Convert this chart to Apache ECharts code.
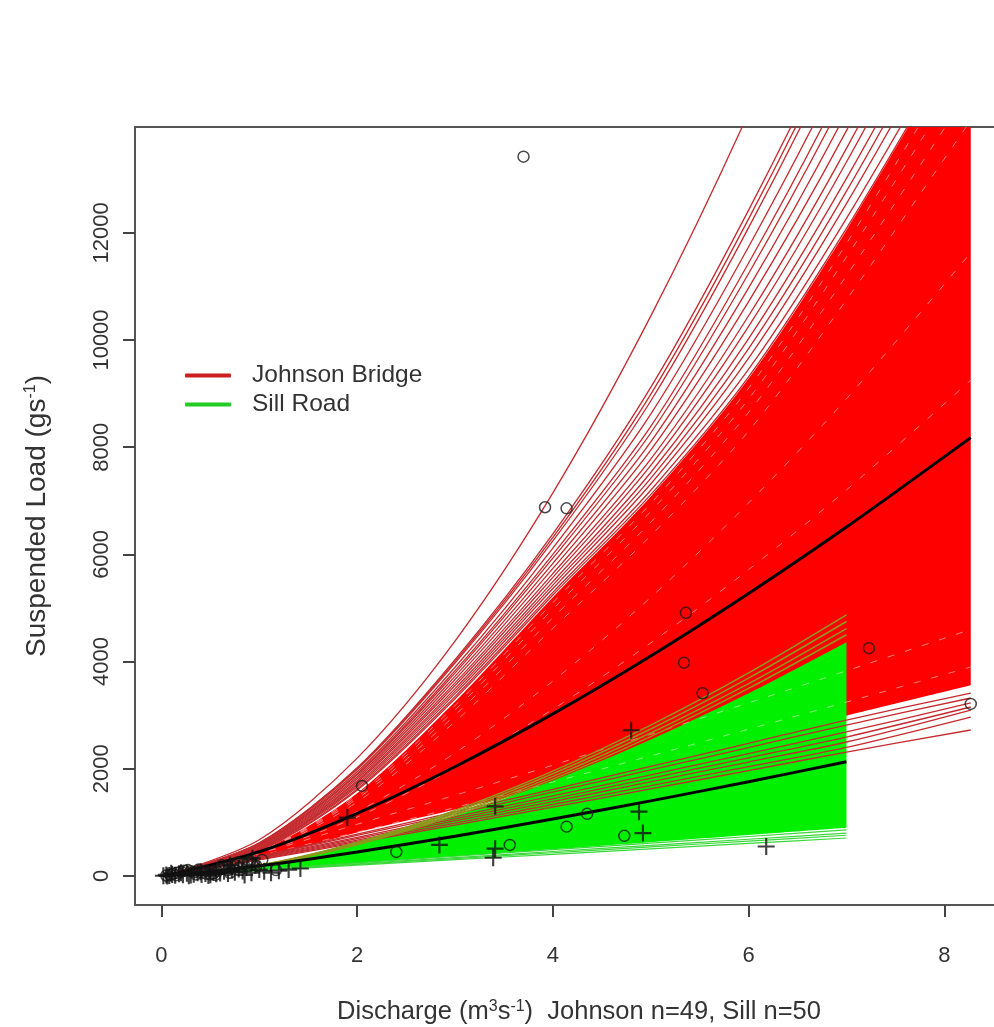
<!DOCTYPE html>
<html>
<head>
<meta charset="utf-8">
<title>Suspended load vs discharge</title>
<script src="https://cdn.jsdelivr.net/npm/echarts@6.0.0/dist/echarts.min.js"></script>
<style>
  html, body { margin: 0; padding: 0; background: #fff; }
  #chart { width: 994px; height: 1027px; }
</style>
</head>
<body>
<div id="chart"></div>
<script>
var xJohnson = [0.03, 1, 2, 3, 4, 5, 6, 7, 8.27];
var xSill = [0.03, 1, 2, 3, 4, 5, 6, 7];

// Johnson Bridge: the sparse upper bootstrap fits
var johnsonUpper = [
  [0, 677, 2200, 4384, 7148, 10445, 14238, 18509, 24574],
  [0, 619, 2021, 4038, 6384, 9115, 12423, 16140, 21420],
  [0, 614, 2004, 4005, 6317, 8987, 12259, 15936, 21166],
  [0, 608, 1986, 3971, 6251, 8862, 12096, 15733, 20907],
  [0, 593, 1944, 3894, 6119, 8618, 11740, 15244, 20221],
  [0, 580, 1909, 3831, 6002, 8388, 11437, 14868, 19743],
  [0, 572, 1884, 3786, 5929, 8265, 11240, 14605, 19388],
  [0, 559, 1849, 3725, 5832, 8101, 10974, 14249, 18902],
  [0, 545, 1814, 3665, 5738, 7946, 10717, 13906, 18432],
  [0, 532, 1779, 3603, 5643, 7778, 10452, 13576, 18017],
  [0, 522, 1751, 3554, 5572, 7660, 10255, 13320, 17678],
  [0, 508, 1716, 3496, 5491, 7528, 10027, 13015, 17259],
  [0, 497, 1688, 3450, 5427, 7418, 9841, 12777, 16944],
  [0, 486, 1659, 3402, 5363, 7314, 9662, 12545, 16639],
  [0, 473, 1625, 3346, 5291, 7197, 9455, 12269, 16262],
  [0, 463, 1600, 3306, 5242, 7116, 9313, 12081, 16010]
];
// edges of the solid red mass of fits
var johnsonBandTop = [0, 455, 1545, 3250, 5200, 7080, 9280, 12050, 15980];
var johnsonBandBottom = [0, 330, 813, 1240, 1672, 2108, 2549, 2992, 3559];
// light gaps between fits inside the red mass
var johnsonGaps = [
  [0, 450, 1520, 3180, 5100, 6950, 9100, 11800, 15600],
  [0, 445, 1480, 3100, 4980, 6800, 8900, 11550, 15200],
  [0, 440, 1440, 3000, 4820, 6600, 8650, 11200, 14700],
  [0, 430, 1380, 2880, 4620, 6350, 8300, 10750, 14100],
  [0, 450, 1200, 2296, 3637, 5198, 6960, 8904, 11629],
  [0, 430, 1100, 2021, 3111, 4348, 5716, 7203, 9250],
  [0, 420, 965, 1507, 2068, 2644, 3231, 3828, 4600],
  [0, 380, 818, 1278, 1753, 2241, 2739, 3245, 3899]
];
// lowest Johnson fits (seen right of the green band)
var johnsonLower = [
  [0, 377, 781, 1195, 1617, 2044, 2475, 2910, 3414],
  [0, 365, 756, 1157, 1565, 1979, 2396, 2817, 3321],
  [0, 348, 721, 1104, 1493, 1887, 2285, 2687, 3228],
  [0, 336, 696, 1065, 1441, 1821, 2205, 2593, 3153],
  [0, 324, 671, 1027, 1389, 1756, 2126, 2500, 3097],
  [0, 311, 644, 986, 1334, 1686, 2041, 2400, 2966],
  [0, 300, 621, 950, 1285, 1625, 1967, 2313, 2724]
];
var johnsonMean = [0, 453, 1170, 2039, 3024, 4105, 5271, 6510, 8179];

// Sill Road fits
var sillEdge = [
  [0, 204, 632, 1224, 1956, 2814, 3788, 4871],
  [0, 199, 616, 1193, 1907, 2743, 3692, 4748],
  [0, 194, 599, 1160, 1854, 2667, 3590, 4617],
  [0, 189, 584, 1131, 1807, 2601, 3500, 4501]
];
var sillBandTop = [0, 194, 588, 1125, 1782, 2547, 3410, 4363];
var sillBandBottom = [0, 117, 242, 370, 500, 632, 765, 900];
var sillLower = [
  [0, 123, 246, 369, 491, 614, 737, 860],
  [0, 114, 229, 343, 457, 571, 686, 800],
  [0, 109, 217, 326, 434, 543, 651, 760],
  [0, 101, 203, 304, 405, 506, 608, 709]
];
var sillMean = [0, 189, 448, 742, 1062, 1402, 1759, 2131];

// observations
var johnsonPts = [
  [3.70, 13420], [3.92, 6880], [4.14, 6860], [2.05, 1680], [5.36, 4910],
  [5.34, 3980], [5.53, 3410], [4.35, 1160], [4.14, 920], [4.73, 750],
  [3.56, 580], [2.40, 450], [7.23, 4250], [8.27, 3210], [1.17, 110],
  [1.03, 300], [0.90, 270], [0.05, 10], [0.09, 25], [0.12, 40],
  [0.16, 60], [0.20, 80], [0.23, 100], [0.27, 110], [0.30, 90],
  [0.34, 70], [0.38, 120], [0.42, 60], [0.46, 40], [0.50, 30],
  [0.53, 50], [0.57, 90], [0.60, 130], [0.64, 150], [0.68, 110],
  [0.72, 180], [0.76, 200], [0.80, 160], [0.84, 230], [0.88, 250],
  [0.93, 210], [0.97, 190], [0.55, 20], [0.15, 15], [0.35, 30],
  [0.45, 100], [0.70, 60], [0.62, 200], [0.78, 250]
];
var sillPts = [
  [4.80, 2720], [1.90, 1090], [3.41, 1300], [4.88, 1200], [4.92, 800],
  [3.41, 510], [3.39, 340], [6.18, 550], [2.84, 580], [1.42, 140],
  [0.02, 5], [0.05, 20], [0.08, 10], [0.11, 30], [0.14, 15],
  [0.18, 40], [0.22, 25], [0.26, 50], [0.30, 20], [0.33, 35],
  [0.37, 60], [0.41, 30], [0.45, 45], [0.50, 25], [0.53, 70],
  [0.56, 40], [0.60, 55], [0.64, 90], [0.68, 45], [0.72, 110],
  [0.75, 70], [0.79, 130], [0.83, 95], [0.87, 160], [0.92, 60],
  [0.96, 200], [1.00, 120], [1.05, 90], [1.12, 60], [0.93, 330],
  [0.70, 200], [0.40, 80], [0.20, 60], [0.10, 50], [0.06, 0],
  [0.28, 5], [0.48, 10], [0.85, 20], [1.20, 100], [1.30, 120]
];

var xTicks = [0, 2, 4, 6, 8];
var yTicks = [0, 2000, 4000, 6000, 8000, 10000, 12000];

var font = "'Liberation Sans', Arial, sans-serif";

function pairs(xs, ys) {
  return ys.map(function (y, i) { return [xs[i], y]; });
}

function curve(name, xs, ys, color, width, extra) {
  var s = {
    name: name,
    type: "line",
    data: pairs(xs, ys),
    smooth: 0.3,
    symbol: "none",
    silent: true,
    lineStyle: { color: color, width: width }
  };
  for (var k in extra) s[k] = extra[k];
  return s;
}

// filled band between two read curves; values come first in each row so the
// stack is taken on the load axis, not on discharge
function band(key, xs, bottom, top, color) {
  var diff = top.map(function (v, i) { return v - bottom[i]; });
  function rows(ys) {
    return ys.map(function (y, i) { return [y, xs[i]]; });
  }
  var common = {
    type: "line", smooth: 0.3, symbol: "none", silent: true,
    stack: key, encode: { x: 1, y: 0 }
  };
  var base = Object.assign({ name: key + " base", data: rows(bottom), lineStyle: { width: 0 } }, common);
  var fill = Object.assign({
    name: key + " fill", data: rows(diff), lineStyle: { width: 0 },
    areaStyle: { color: color, opacity: 1 }
  }, common);
  return [base, fill];
}

var series = [];
johnsonUpper.forEach(function (ys) {
  series.push(curve("Johnson Bridge", xJohnson, ys, "#c42a2e", 1.3));
});
series = series.concat(band("jb", xJohnson, johnsonBandBottom, johnsonBandTop, "#ff0000"));
johnsonGaps.forEach(function (ys) {
  series.push(curve("gap", xJohnson, ys, "#fff", 1, {
    lineStyle: { color: "rgba(255,235,235,0.55)", width: 1, type: [7, 11] }
  }));
});
johnsonLower.forEach(function (ys) {
  series.push(curve("Johnson Bridge", xJohnson, ys, "#c42a2e", 1.3));
});
series.push(curve("Johnson mean", xJohnson, johnsonMean, "#000", 3));

sillEdge.forEach(function (ys) {
  series.push(curve("Sill Road", xSill, ys, "#8a9a1a", 1.5));
});
series = series.concat(band("sr", xSill, sillBandBottom, sillBandTop, "#00f000"));
sillLower.forEach(function (ys) {
  series.push(curve("Sill Road", xSill, ys, "#3ad83a", 1.2));
});
series.push(curve("Sill mean", xSill, sillMean, "#000", 3));

series.push({
  name: "Johnson obs",
  type: "scatter",
  data: johnsonPts,
  symbol: "circle",
  symbolSize: 11,
  itemStyle: { color: "rgba(0,0,0,0)", borderColor: "#1a1a1a", borderWidth: 1.5 },
  z: 10
});
series.push({
  name: "Sill obs",
  type: "scatter",
  data: sillPts,
  symbol: "path://M7,0h2v7h7v2h-7v7h-2v-7h-7v-2h7z",
  symbolSize: 17,
  itemStyle: { color: "#111" },
  z: 10
});

var titleRich = {
  t: { fontSize: 25.5, color: "#333", fontFamily: font },
  s: { fontSize: 16, color: "#333", fontFamily: font, verticalAlign: "top" }
};

var chart = echarts.init(document.getElementById("chart"), null, { renderer: "canvas" });
chart.setOption({
  animation: false,
  backgroundColor: "#fff",
  textStyle: { fontFamily: font },
  grid: {
    left: 135, top: 127, width: 870, height: 778,
    outerBoundsMode: "none",
    show: true, borderColor: "#555", borderWidth: 2, backgroundColor: "#fff"
  },
  legend: {
    show: true,
    selectedMode: false,
    orient: "vertical",
    left: 180,
    top: 358,
    itemWidth: 46,
    itemHeight: 4,
    itemGap: 4,
    icon: "roundRect",
    data: [
      { name: "Johnson Bridge", itemStyle: { color: "#cc1f1f" } },
      { name: "Sill Road", itemStyle: { color: "#22cc22" } }
    ],
    textStyle: { fontSize: 24.5, color: "#333", fontFamily: font, padding: [0, 0, 0, 16] }
  },
  xAxis: {
    type: "value",
    min: -0.27,
    max: 8.62,
    axisLine: { show: false, onZero: false },
    splitLine: { show: false },
    axisTick: { show: true, customValues: xTicks, length: 12, lineStyle: { color: "#444", width: 2 } },
    axisLabel: {
      customValues: xTicks, fontSize: 22, color: "#333", margin: 40, fontFamily: font,
      formatter: function (v) { return String(v); }
    },
    name: "{t|Discharge (m}{s|3}{t|s}{s|-1}{t|)  Johnson n=49, Sill n=50}",
    nameLocation: "middle",
    nameGap: 94,
    nameTextStyle: { rich: titleRich, padding: [0, 0, 0, 18] }
  },
  yAxis: {
    type: "value",
    min: -541,
    max: 13974,
    axisLine: { show: false, onZero: false },
    splitLine: { show: false },
    axisTick: { show: true, customValues: yTicks, length: 12, lineStyle: { color: "#444", width: 2 } },
    axisLabel: {
      customValues: yTicks, rotate: 90, fontSize: 22, color: "#333", margin: 22, fontFamily: font,
      formatter: function (v) { return String(v); }
    },
    name: "{t|Suspended Load (gs}{s|-1}{t|)}",
    nameLocation: "middle",
    nameRotate: 90,
    nameGap: 84,
    nameTextStyle: { rich: { t: { fontSize: 28, color: "#333", fontFamily: font }, s: titleRich.s } }
  },
  series: series
});
</script>
</body>
</html>
